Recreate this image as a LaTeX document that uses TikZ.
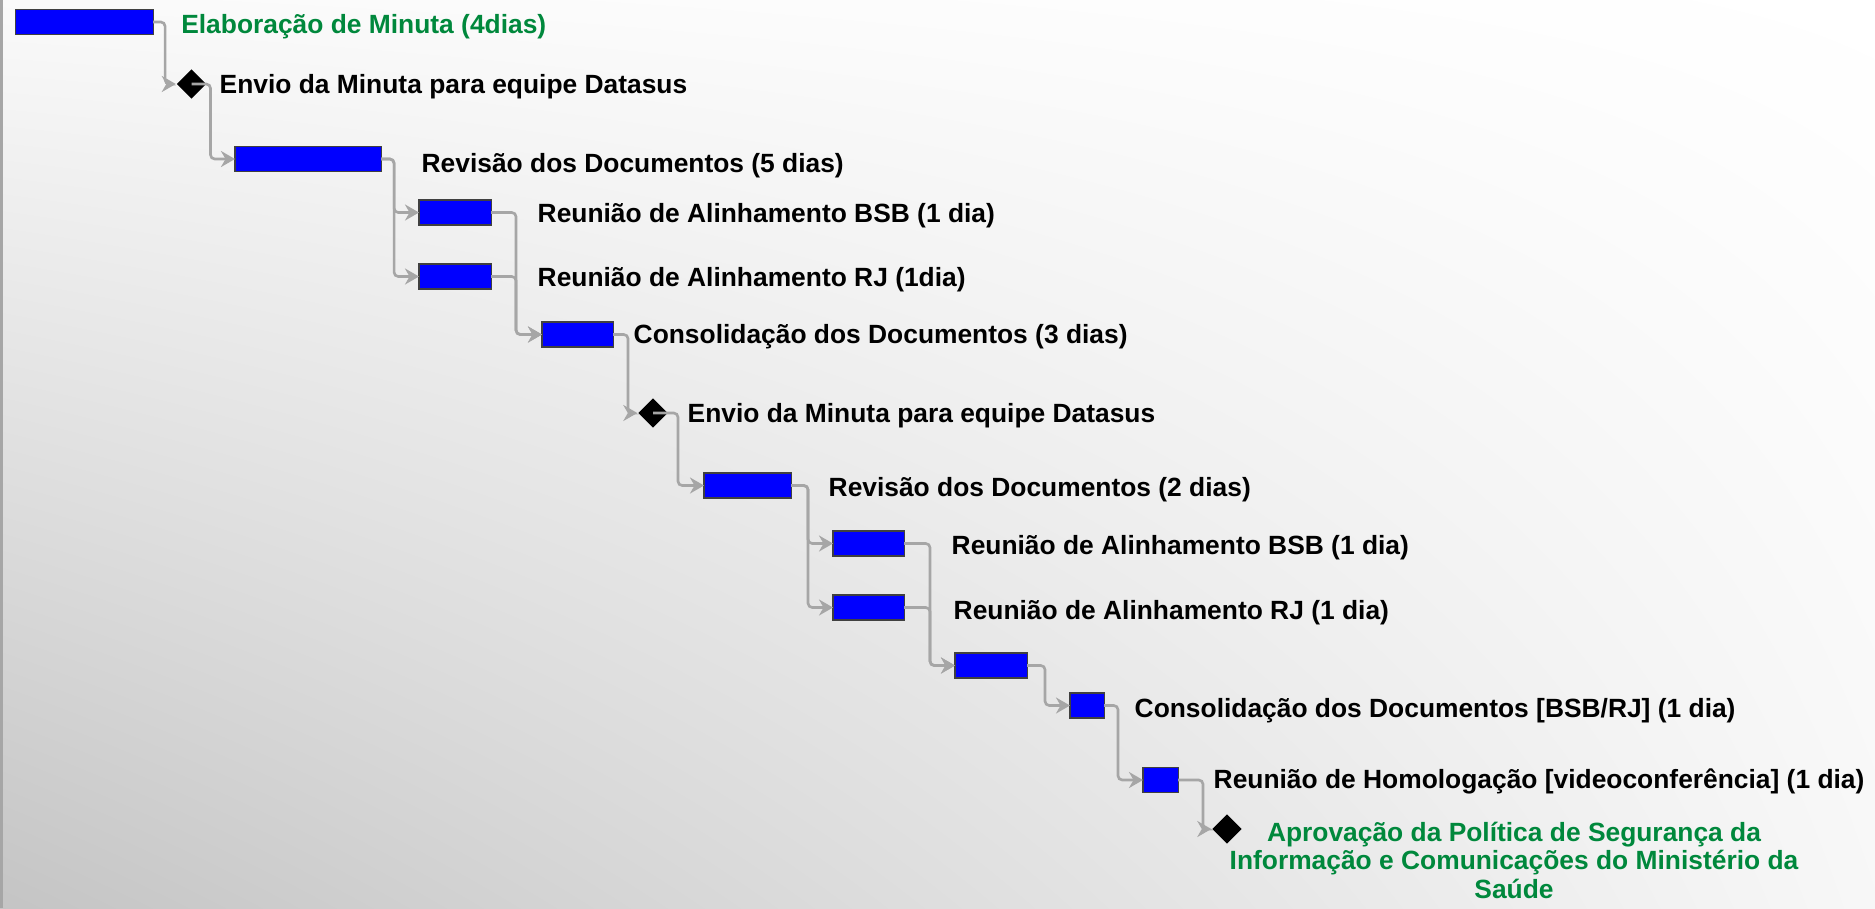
\documentclass[tikz,border=0pt]{standalone}
\usepackage{fontspec}
\setmainfont{Liberation Sans}
\usetikzlibrary{arrows.meta,positioning,shapes.geometric,shadings}
\definecolor{barblue}{rgb}{0, 0, 1}
\definecolor{linkgray}{RGB}{166,166,166}
\definecolor{taskgreen}{RGB}{0,136,60}

\begin{document}
\begin{tikzpicture}[x=0.01cm, y=-0.01cm,
    bar/.style={rectangle, draw=black!75, line width=0.3pt, fill=barblue,
        inner sep=0pt, outer sep=0pt, minimum height=0.25cm, anchor=west},
    milestone/.style={diamond, fill=black, inner sep=0pt,
        minimum width=0.3cm, minimum height=0.3cm},
    lbl/.style={anchor=west, inner sep=0pt, text height=0.72em, text depth=0pt,
        font=\bfseries\fontsize{7.5pt}{8.1pt}\selectfont},
    link/.style={draw=linkgray, line width=0.75pt, rounded corners=1.2pt},
    arr/.style={link, -{Stealth[length=0.14cm, width=0.16cm]}}]

    % background
    \shade[upper left=black!2, upper right=white, lower left=black!23, lower right=black!3]
        (0,0) rectangle (1875,908);
    \useasboundingbox (0,0) rectangle (1875,908);
    \draw[line width=0.7pt, color=black!35] (1.5,0) -- (1.5,908);

    % tasks
    \node[bar, minimum width=1.375cm] (b1) at (15.5,22) {};
    \node[milestone] (d1) at (191.5,84) {};
    \node[bar, minimum width=1.46cm] (b2) at (235,159) {};
    \node[bar, minimum width=0.72cm] (b3) at (419,212.5) {};
    \node[bar, minimum width=0.72cm] (b4) at (419,276.5) {};
    \node[bar, minimum width=0.71cm] (b5) at (542,334.5) {};
    \node[milestone] (d2) at (653,413) {};
    \node[bar, minimum width=0.87cm] (b6) at (704,485.5) {};
    \node[bar, minimum width=0.71cm] (b7) at (833,543.5) {};
    \node[bar, minimum width=0.71cm] (b8) at (833,607.5) {};
    \node[bar, minimum width=0.72cm] (b9) at (955,665.5) {};
    \node[bar, minimum width=0.34cm] (b10) at (1070,705.5) {};
    \node[bar, minimum width=0.35cm] (b11) at (1143,780) {};
    \node[milestone] (d3) at (1227,829) {};

    % labels
    \node[lbl, taskgreen] (t1) at (180.6,21) {Elaboração de Minuta (4dias)};
    \node[lbl] (t2) at (219,81) {Envio da Minuta para equipe Datasus};
    \node[lbl] (t3) at (421,160) {Revisão dos Documentos (5 dias)};
    \node[lbl] (t4) at (537,210) {Reunião de Alinhamento BSB (1 dia)};
    \node[lbl] (t5) at (537,274) {Reunião de Alinhamento RJ (1dia)};
    \node[lbl] (t6) at (633,331) {Consolidação dos Documentos (3 dias)};
    \node[lbl] (t7) at (687,410) {Envio da Minuta para equipe Datasus};
    \node[lbl] (t8) at (828,484) {Revisão dos Documentos (2 dias)};
    \node[lbl] (t9) at (951,542) {Reunião de Alinhamento BSB (1 dia)};
    \node[lbl] (t10) at (953,607) {Reunião de Alinhamento RJ (1 dia)};
    \node[lbl] (t11) at (1134,705) {Consolidação dos Documentos [BSB/RJ] (1 dia)};
    \node[lbl] (t12) at (1213,776) {Reunião de Homologação [videoconferência] (1 dia)};
    \node[align=center, inner sep=0pt, taskgreen, font=\bfseries\fontsize{7.5pt}{8.1pt}\selectfont]
        (t13) at (1514,860) {Aprovação da Política de Segurança da\\
        Informação e Comunicações do Ministério da\\Saúde};

    % links
    \draw[arr] (b1.east) -- ++(12,0) |- (d1.west);
    \draw[arr] (d1.center) -- ++(19,0) |- (b2.west);
    \draw[arr] (b2.east) -- ++(13,0) |- (b3.west);
    \draw[arr] (b2.east) -- ++(13,0) |- (b4.west);
    \draw[arr] (b3.east) -- ++(25,0) |- (b5.west);
    \draw[arr] (b4.east) -- ++(25,0) |- (b5.west);
    \draw[arr] (b5.east) -- ++(15,0) |- (d2.west);
    \draw[arr] (d2.center) -- ++(25,0) |- (b6.west);
    \draw[arr] (b6.east) -- ++(17,0) |- (b7.west);
    \draw[arr] (b6.east) -- ++(17,0) |- (b8.west);
    \draw[arr] (b7.east) -- ++(26,0) |- (b9.west);
    \draw[arr] (b8.east) -- ++(26,0) |- (b9.west);
    \draw[arr] (b9.east) -- ++(18,0) |- (b10.west);
    \draw[arr] (b10.east) -- ++(14,0) |- (b11.west);
    \draw[arr] (b11.east) -- ++(25,0) |- (d3.west);
\end{tikzpicture}
\end{document}
